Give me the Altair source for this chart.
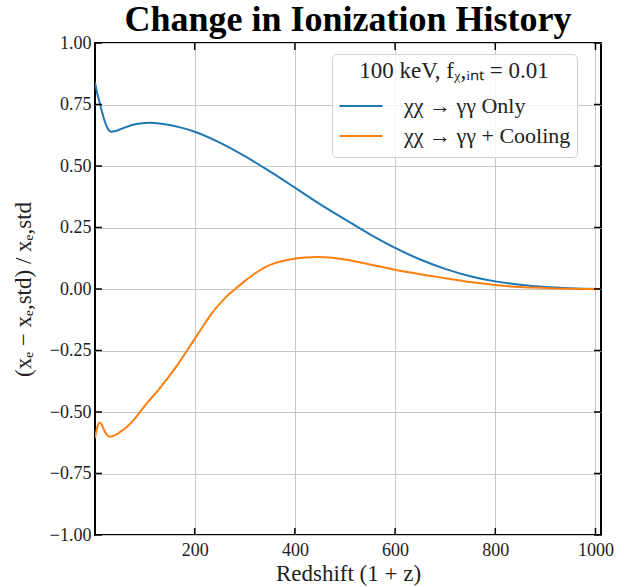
import altair as alt
import pandas as pd

# ---- data ----
blue_x = [1, 5, 10, 15, 20, 27, 33, 42, 55, 75, 95, 110, 130, 150, 175, 200, 250, 300, 350,
          400, 450, 500, 550, 600, 650, 700, 750, 800, 850, 900, 950, 1011]
blue_y = [0.84, 0.80, 0.76, 0.72, 0.685, 0.65, 0.639, 0.642, 0.652, 0.667, 0.674, 0.676, 0.673,
          0.667, 0.655, 0.639, 0.595, 0.540, 0.478, 0.412, 0.345, 0.283, 0.222, 0.167, 0.120,
          0.082, 0.052, 0.031, 0.017, 0.008, 0.003, 0.0]

orange_x = [1, 4, 7, 10, 14, 18, 23, 28, 33, 40, 50, 65, 80, 100, 130, 160, 190, 210, 233, 260,
            282, 300, 320, 340, 360, 390, 420, 445, 470, 500, 550, 600, 650, 700, 750, 800, 850,
            900, 950, 1011]
orange_y = [-0.606, -0.575, -0.552, -0.543, -0.550, -0.568, -0.588, -0.599, -0.600, -0.595,
            -0.583, -0.560, -0.528, -0.476, -0.404, -0.325, -0.234, -0.172, -0.102, -0.038,
            0.002, 0.032, 0.063, 0.088, 0.105, 0.120, 0.128, 0.130, 0.128, 0.120, 0.100, 0.078,
            0.060, 0.044, 0.028, 0.016, 0.008, 0.004, 0.001, 0.0]

series_names = ["χχ → γγ Only", "χχ → γγ + Cooling"]
series_colors = ["#1f77b4", "#ff7f0e"]

x_ticks = [200, 400, 600, 800, 1000]
y_ticks = [-1.0, -0.75, -0.5, -0.25, 0.0, 0.25, 0.5, 0.75, 1.0]

title_text = "Change in Ionization History"
legend_title = "100 keV, fᵪ,ᵢₙₜ = 0.01"
x_title = "Redshift (1 + z)"
y_title = "(xₑ − xₑ,std) / xₑ,std"

FONT = "Liberation Serif"
W, H = 506, 492

df = pd.concat([
    pd.DataFrame({"x": blue_x, "y": blue_y, "series": series_names[0]}),
    pd.DataFrame({"x": orange_x, "y": orange_y, "series": series_names[1]}),
])

xscale = alt.Scale(domain=[1, 1011], nice=False, zero=False)
yscale = alt.Scale(domain=[-1, 1], nice=False)

lines = alt.Chart(df).mark_line(strokeWidth=2, interpolate="monotone", clip=True).encode(
    x=alt.X("x:Q", scale=xscale, title=x_title,
            axis=alt.Axis(values=x_ticks, format="d", grid=True, tickSize=0,
                          labelPadding=6, titlePadding=3)),
    y=alt.Y("y:Q", scale=yscale, title=y_title,
            axis=alt.Axis(values=y_ticks, format=".2f", grid=True, tickSize=0,
                          labelPadding=4, titlePadding=14)),
    color=alt.Color("series:N",
                    scale=alt.Scale(domain=series_names, range=series_colors),
                    legend=alt.Legend(title=legend_title, orient="none",
                                      legendX=237, legendY=11,
                                      symbolType="stroke", symbolSize=1850,
                                      symbolStrokeWidth=2,
                                      titleAnchor="middle", titleAlign="center",
                                      titleLimit=400, labelLimit=400,
                                      padding=6, rowPadding=0, titlePadding=8,
                                      clipHeight=30,
                                      labelOffset=20,
                                      strokeColor="#d0d0d0", cornerRadius=4,
                                      fillColor="rgba(255,255,255,0.8)")),
)

xt = pd.DataFrame({"x": x_ticks})
yt = pd.DataFrame({"y": y_ticks})
TL = 7
xt_bottom = alt.Chart(xt).mark_rule(color="black", strokeWidth=1.5).encode(
    x=alt.X("x:Q", scale=xscale), y=alt.value(H), y2=alt.value(H - TL))
xt_top = alt.Chart(xt).mark_rule(color="black", strokeWidth=1.5).encode(
    x=alt.X("x:Q", scale=xscale), y=alt.value(0), y2=alt.value(TL))
yt_left = alt.Chart(yt).mark_rule(color="black", strokeWidth=1.5).encode(
    y=alt.Y("y:Q", scale=yscale), x=alt.value(0), x2=alt.value(TL))
yt_right = alt.Chart(yt).mark_rule(color="black", strokeWidth=1.5).encode(
    y=alt.Y("y:Q", scale=yscale), x=alt.value(W), x2=alt.value(W - TL))

chart = alt.layer(lines, xt_bottom, xt_top, yt_left, yt_right).properties(
    width=W, height=H,
    autosize=alt.AutoSizeParams(type="none"),
    padding={"left": 95, "top": 43, "right": 23, "bottom": 52},
    title=alt.Title(title_text, font=FONT, fontSize=36, fontWeight="bold",
                    color="black", offset=-5, anchor="middle"),
).configure_view(
    stroke="black", strokeWidth=2
).configure_axis(
    labelFont=FONT, labelFontSize=18, labelColor="#222222",
    titleFont=FONT, titleFontSize=23, titleColor="#222222", titleFontWeight="normal",
    gridColor="#c8c8c8", gridWidth=1, domain=False,
).configure_legend(
    titleFont=FONT, titleFontSize=23, titleFontWeight="normal", titleColor="#222222",
    labelFont=FONT, labelFontSize=22, labelColor="#222222",
)

chart.save("out.html", embed_options={"renderer": "svg", "actions": False})
